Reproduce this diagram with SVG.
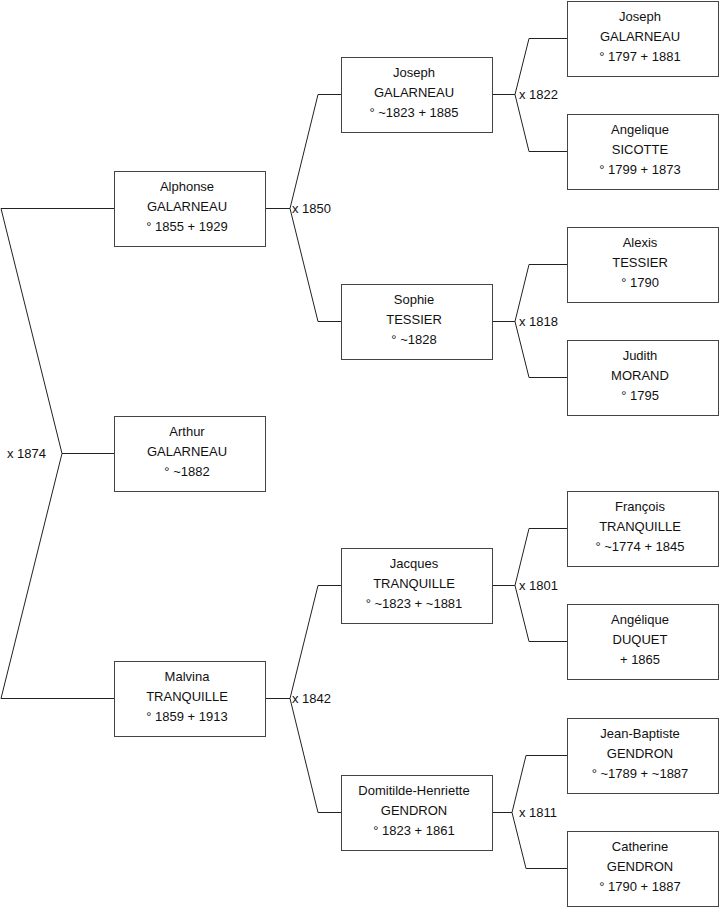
<svg xmlns="http://www.w3.org/2000/svg" width="719" height="908" viewBox="0 0 719 908">
<style>
.box{fill:#fff;stroke:#444;stroke-width:1}
.t{font-family:"Liberation Sans",Arial,sans-serif;font-size:13px;fill:#111;text-anchor:middle}
.l{font-family:"Liberation Sans",Arial,sans-serif;font-size:13px;fill:#111}
.c{fill:none;stroke:#222;stroke-width:1}
</style>
<rect width="719" height="908" fill="#fff"/>
<g id="connectors">
<path class="c" d="M114,208.5H1L62,453.5L1,698.5H114M62,453.5H114"/>
<path class="c" d="M265,208.5H290M341,94.5H318L290,208.5L318,321.5H341"/>
<path class="c" d="M265,698.5H290M341,585.5H318L290,698.5L318,812.5H341"/>
<path class="c" d="M492,94.5H515M567,38.5H529L515,94.5L529,151.5H567"/>
<path class="c" d="M492,321.5H515M567,264.5H529L515,321.5L529,377.5H567"/>
<path class="c" d="M492,585.5H515M567,528.5H529L515,585.5L529,641.5H567"/>
<path class="c" d="M492,812.5H512M567,755.5H526L512,812.5L526,868.5H567"/>
<text class="l" x="7" y="458">x 1874</text>
<text class="l" x="292" y="213">x 1850</text>
<text class="l" x="292" y="703">x 1842</text>
<text class="l" x="519" y="99">x 1822</text>
<text class="l" x="519" y="326">x 1818</text>
<text class="l" x="519" y="590">x 1801</text>
<text class="l" x="519" y="817">x 1811</text>
</g>
<g id="alphonse"><rect class="box" x="114.5" y="171.5" width="151" height="75"/><text class="t" x="187" y="191">Alphonse</text><text class="t" x="187" y="211">GALARNEAU</text><text class="t" x="187" y="231">° 1855 + 1929</text></g>
<g id="arthur"><rect class="box" x="114.5" y="416.5" width="151" height="75"/><text class="t" x="187" y="436">Arthur</text><text class="t" x="187" y="456">GALARNEAU</text><text class="t" x="187" y="476">° ~1882</text></g>
<g id="malvina"><rect class="box" x="114.5" y="661.5" width="151" height="75"/><text class="t" x="187" y="681">Malvina</text><text class="t" x="187" y="701">TRANQUILLE</text><text class="t" x="187" y="721">° 1859 + 1913</text></g>
<g id="joseph1"><rect class="box" x="341.5" y="57.5" width="151" height="75"/><text class="t" x="414" y="77">Joseph</text><text class="t" x="414" y="97">GALARNEAU</text><text class="t" x="414" y="117">° ~1823 + 1885</text></g>
<g id="sophie"><rect class="box" x="341.5" y="284.5" width="151" height="75"/><text class="t" x="414" y="304">Sophie</text><text class="t" x="414" y="324">TESSIER</text><text class="t" x="414" y="344">° ~1828</text></g>
<g id="jacques"><rect class="box" x="341.5" y="548.5" width="151" height="75"/><text class="t" x="414" y="568">Jacques</text><text class="t" x="414" y="588">TRANQUILLE</text><text class="t" x="414" y="608">° ~1823 + ~1881</text></g>
<g id="domitilde"><rect class="box" x="341.5" y="775.5" width="151" height="75"/><text class="t" x="414" y="795">Domitilde-Henriette</text><text class="t" x="414" y="815">GENDRON</text><text class="t" x="414" y="835">° 1823 + 1861</text></g>
<g id="joseph2"><rect class="box" x="567.5" y="1.5" width="151" height="75"/><text class="t" x="640" y="21">Joseph</text><text class="t" x="640" y="41">GALARNEAU</text><text class="t" x="640" y="61">° 1797 + 1881</text></g>
<g id="angelique1"><rect class="box" x="567.5" y="114.5" width="151" height="75"/><text class="t" x="640" y="134">Angelique</text><text class="t" x="640" y="154">SICOTTE</text><text class="t" x="640" y="174">° 1799 + 1873</text></g>
<g id="alexis"><rect class="box" x="567.5" y="227.5" width="151" height="75"/><text class="t" x="640" y="247">Alexis</text><text class="t" x="640" y="267">TESSIER</text><text class="t" x="640" y="287">° 1790</text></g>
<g id="judith"><rect class="box" x="567.5" y="340.5" width="151" height="75"/><text class="t" x="640" y="360">Judith</text><text class="t" x="640" y="380">MORAND</text><text class="t" x="640" y="400">° 1795</text></g>
<g id="francois"><rect class="box" x="567.5" y="491.5" width="151" height="75"/><text class="t" x="640" y="511">François</text><text class="t" x="640" y="531">TRANQUILLE</text><text class="t" x="640" y="551">° ~1774 + 1845</text></g>
<g id="angelique2"><rect class="box" x="567.5" y="604.5" width="151" height="75"/><text class="t" x="640" y="624">Angélique</text><text class="t" x="640" y="644">DUQUET</text><text class="t" x="640" y="664">+ 1865</text></g>
<g id="jeanbaptiste"><rect class="box" x="567.5" y="718.5" width="151" height="75"/><text class="t" x="640" y="738">Jean-Baptiste</text><text class="t" x="640" y="758">GENDRON</text><text class="t" x="640" y="778">° ~1789 + ~1887</text></g>
<g id="catherine"><rect class="box" x="567.5" y="831.5" width="151" height="75"/><text class="t" x="640" y="851">Catherine</text><text class="t" x="640" y="871">GENDRON</text><text class="t" x="640" y="891">° 1790 + 1887</text></g>
</svg>
